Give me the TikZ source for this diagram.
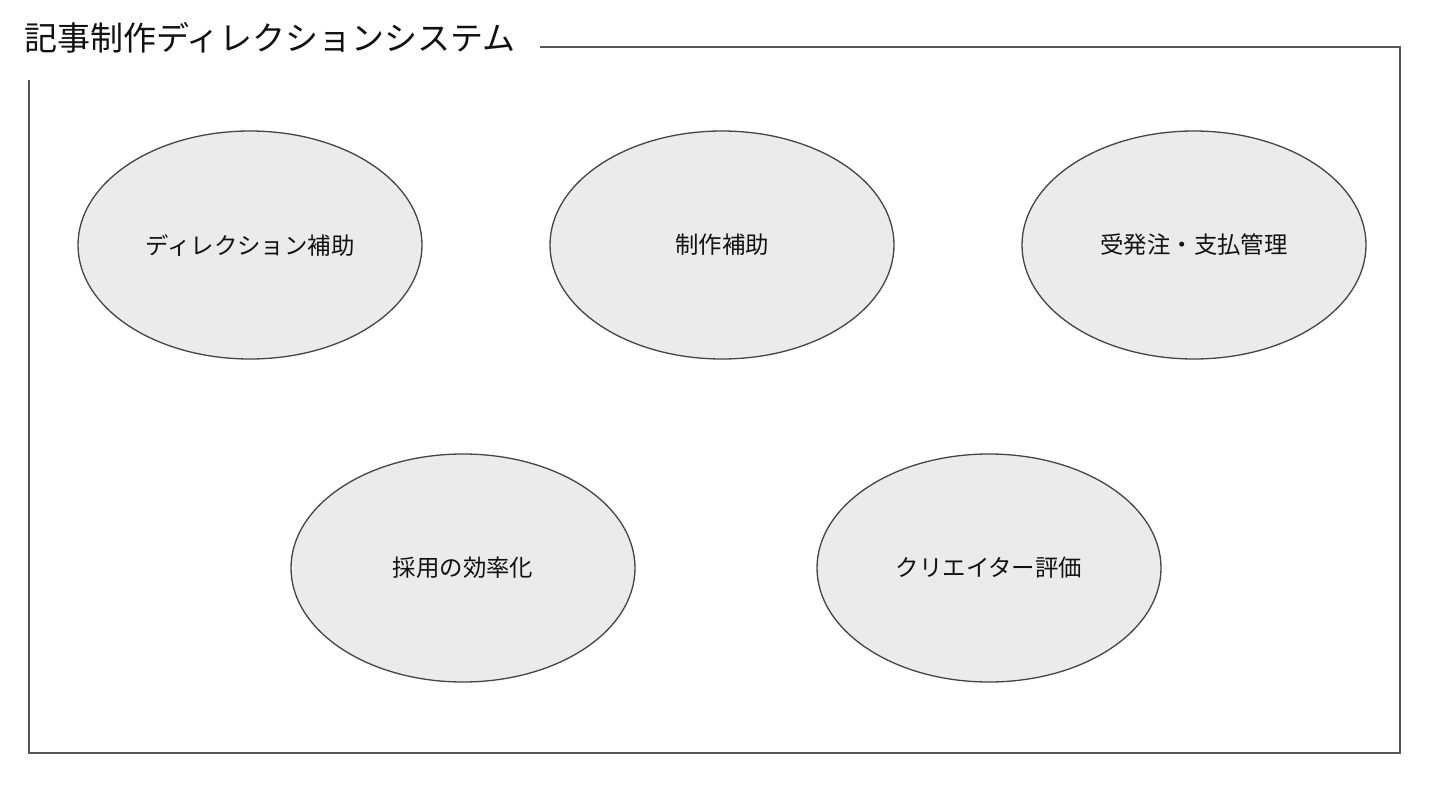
\documentclass[tikz,border=0pt]{standalone}
\usepackage{fontspec}
\setmainfont{Noto Sans CJK JP}
\usepackage{tikz}
\usetikzlibrary{shapes.geometric}
\definecolor{FrameLine}{HTML}{555555}
\definecolor{BubbleLine}{HTML}{444444}
\definecolor{BubbleFill}{HTML}{EBEBEB}
\definecolor{LabelInk}{HTML}{111111}

\begin{document}
\begin{tikzpicture}[x=1pt,y=-1pt,
    bubble/.style={ellipse,draw=BubbleLine,fill=BubbleFill,line width=1.3pt,
      minimum width=344pt,minimum height=228pt,inner sep=0pt,
      text=LabelInk,font=\fontsize{23.4}{26}\selectfont}]
  \useasboundingbox (0,0) rectangle (1440,789);
  % frame with the title in its top left corner
  \node[anchor=west,inner sep=0pt,text=LabelInk,font=\fontsize{33}{36}\selectfont] (title) at (24,38) {記事制作ディレクションシステム};
  \draw[FrameLine,line width=1.6pt] (540,47) -- (1400,47) -- (1400,753) -- (29,753) -- (29,80);
  % top row
  \node[bubble] (dirHelp) at (250,245) {ディレクション補助};
  \node[bubble] (prodHelp) at (722,245) {制作補助};
  \node[bubble] (orderPay) at (1194,245) {受発注・支払管理};
  % bottom row
  \node[bubble] (hiring) at (463,568) {採用の効率化};
  \node[bubble] (creatorEval) at (989,568) {クリエイター評価};
\end{tikzpicture}
\end{document}
